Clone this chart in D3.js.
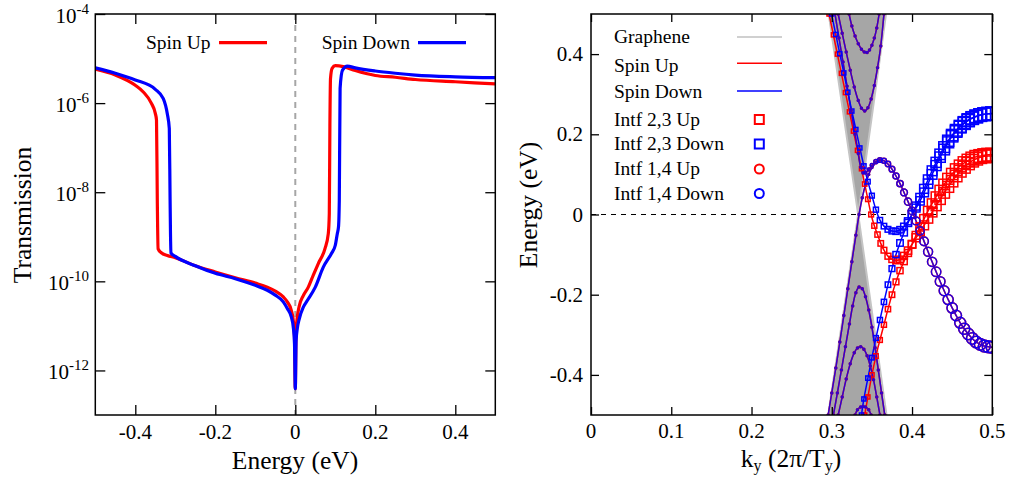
<!DOCTYPE html>
<html>
<head>
<meta charset="utf-8">
<script src="https://cdn.jsdelivr.net/npm/d3@7"></script>
<style>
    body { margin: 0; background: #fff; }
    svg { display: block; font-family: "Liberation Serif", "Times New Roman", serif; }
</style>
</head>
<body>
<svg id="chart" width="1010" height="477"></svg>
<script>
// ---- Left panel: transmission vs energy (log10 of T) ----
const energyUp = [-0.5, -0.45, -0.4, -0.38, -0.36, -0.35, -0.347, -0.345, -0.343, -0.335, -0.32, -0.3, -0.25, -0.2,
    -0.15, -0.1, -0.07, -0.05, -0.03, -0.02, -0.01, -0.005, -0.002, 0, 0.002, 0.005, 0.01, 0.02, 0.0325, 0.045,
    0.0575, 0.074, 0.0825, 0.085, 0.0865, 0.088, 0.092, 0.1, 0.12, 0.15, 0.2, 0.25, 0.3, 0.4, 0.5];
const logTUp = [-5.24, -5.37, -5.6, -5.75, -6.0, -6.23, -6.38, -8.18, -9.27, -9.36, -9.42, -9.47, -9.65, -9.79,
    -9.92, -10.04, -10.13, -10.22, -10.35, -10.46, -10.65, -10.88, -11.25, -12.41, -11.1, -10.8, -10.55, -10.32, -10.13, -9.86,
    -9.6, -9.27, -8.93, -8.48, -6.5, -5.45, -5.22, -5.16, -5.18, -5.27, -5.38, -5.42, -5.47, -5.52, -5.57];

const energyDown = [-0.5, -0.45, -0.4, -0.35, -0.33, -0.32, -0.315, -0.313, -0.311, -0.3, -0.25, -0.2, -0.15, -0.1,
    -0.07, -0.05, -0.03, -0.02, -0.01, -0.005, -0.002, 0, 0.002, 0.005, 0.01, 0.02, 0.03, 0.05, 0.07, 0.09, 0.1,
    0.105, 0.108, 0.11, 0.112, 0.118, 0.13, 0.15, 0.2, 0.25, 0.3, 0.4, 0.5];
const logTDown = [-5.21, -5.33, -5.48, -5.69, -5.9, -6.24, -6.57, -8.18, -9.36, -9.44, -9.65, -9.82, -9.94, -10.09,
    -10.2, -10.31, -10.46, -10.61, -10.8, -11.03, -11.4, -12.41, -11.33, -11.06, -10.84, -10.58, -10.43, -10.13, -9.68, -9.38, -9.19,
    -8.93, -8.78, -8.18, -5.67, -5.26, -5.17, -5.21, -5.28, -5.33, -5.37, -5.41, -5.43];

const leftXTicks = [-0.4, -0.2, 0, 0.2, 0.4];
const leftYTickExp = [-12, -10, -8, -6, -4];
const leftLegend = ["Spin Up", "Spin Down"];

// ---- Right panel: band structure, points are [k, E, interface weight] ----
const grapheneUpper = [[0.2962, 0.5], [0.3329, 0], [0.3676, 0.5]];
const grapheneLower = [[0.2955, -0.5], [0.3329, 0], [0.3682, -0.5]];

// bands shared by both spins (bulk subbands + interface 1,4 band)
const bulkC1 = [[0.3216, 0.5, 0], [0.325, 0.47, 0], [0.329, 0.445, 0], [0.333, 0.426, 0], [0.337, 0.412, 0], [0.3405, 0.405, 0],
    [0.344, 0.404, 0], [0.347, 0.41, 0], [0.35, 0.422, 0], [0.353, 0.44, 0], [0.356, 0.465, 0], [0.359, 0.5, 0]];
const bulkC2 = [[0.308, 0.5, 0], [0.313, 0.452, 0], [0.318, 0.405, 0], [0.323, 0.36, 0], [0.328, 0.318, 0], [0.333, 0.284, 0],
    [0.337, 0.265, 0], [0.341, 0.258, 0], [0.345, 0.266, 0], [0.349, 0.288, 0], [0.353, 0.322, 0], [0.357, 0.366, 0],
    [0.361, 0.42, 0], [0.365, 0.5, 0]];
const bulkV1 = [[0.302, -0.5, 0], [0.307, -0.445, 0], [0.312, -0.388, 0], [0.317, -0.33, 0], [0.322, -0.273, 0], [0.326, -0.228, 0],
    [0.33, -0.195, 0], [0.334, -0.181, 0], [0.338, -0.185, 0], [0.342, -0.205, 0], [0.346, -0.238, 0], [0.35, -0.281, 0],
    [0.354, -0.332, 0], [0.358, -0.388, 0], [0.362, -0.445, 0], [0.366, -0.5, 0]];
const bulkV2 = [[0.308, -0.5, 0], [0.313, -0.455, 0], [0.318, -0.41, 0], [0.323, -0.372, 0], [0.328, -0.345, 0], [0.332, -0.333, 0],
    [0.336, -0.33, 0], [0.34, -0.336, 0], [0.344, -0.352, 0], [0.348, -0.378, 0], [0.352, -0.412, 0], [0.356, -0.455, 0], [0.36, -0.5, 0]];
const bulkV3 = [[0.329, -0.5, 0], [0.332, -0.487, 0], [0.336, -0.48, 0], [0.339, -0.479, 0], [0.342, -0.48, 0], [0.346, -0.487, 0], [0.349, -0.5, 0]];
const diracBand = [[0.2955, -0.5, 0], [0.3, -0.445, 0], [0.305, -0.383, 0], [0.31, -0.318, 0], [0.315, -0.252, 0], [0.32, -0.185, 0],
    [0.325, -0.118, 0], [0.33, -0.052, 0], [0.334, 0, 0], [0.338, 0.042, 0], [0.342, 0.075, 0], [0.346, 0.1, 0], [0.35, 0.117, 0],
    [0.355, 0.13, 0], [0.36, 0.136, 0]];
const intf14 = [[0.304, 0.5, 0], [0.309, 0.44, 0], [0.314, 0.38, 0], [0.319, 0.32, 0], [0.324, 0.26, 0], [0.329, 0.2, 0],
    [0.333, 0.152, 0], [0.336, 0.118, 0], [0.339, 0.104, 0.02], [0.342, 0.104, 0.04], [0.346, 0.112, 0.08], [0.35, 0.123, 0.12],
    [0.355, 0.132, 0.18], [0.36, 0.136, 0.22], [0.365, 0.134, 0.25], [0.37, 0.126, 0.28], [0.375, 0.113, 0.31], [0.38, 0.096, 0.34],
    [0.385, 0.077, 0.37], [0.39, 0.055, 0.4], [0.395, 0.032, 0.43], [0.4, 0.009, 0.46], [0.405, -0.016, 0.49], [0.41, -0.041, 0.52],
    [0.415, -0.067, 0.55], [0.42, -0.093, 0.58], [0.425, -0.118, 0.6], [0.43, -0.143, 0.62], [0.435, -0.167, 0.64], [0.44, -0.19, 0.66],
    [0.445, -0.212, 0.68], [0.45, -0.233, 0.7], [0.455, -0.252, 0.72], [0.46, -0.27, 0.74], [0.465, -0.285, 0.76], [0.47, -0.298, 0.78],
    [0.475, -0.309, 0.79], [0.48, -0.318, 0.8], [0.485, -0.324, 0.81], [0.49, -0.328, 0.82], [0.495, -0.33, 0.83], [0.5, -0.331, 0.84]];

// spin up interface 2,3 bands
const upIntfA = [[0.2966, 0.5, 0.1], [0.302, 0.448, 0.1], [0.307, 0.4, 0.1], [0.312, 0.352, 0.1], [0.317, 0.304, 0.1], [0.322, 0.256, 0.1],
    [0.327, 0.208, 0.1], [0.332, 0.16, 0.1], [0.337, 0.114, 0.1], [0.341, 0.076, 0.12], [0.345, 0.038, 0.14], [0.349, 0, 0.16],
    [0.353, -0.028, 0.18], [0.357, -0.05, 0.2], [0.361, -0.072, 0.22], [0.365, -0.089, 0.24], [0.37, -0.104, 0.26], [0.375, -0.112, 0.28],
    [0.38, -0.115, 0.3], [0.385, -0.112, 0.32], [0.39, -0.103, 0.35], [0.395, -0.09, 0.38], [0.4, -0.074, 0.41], [0.405, -0.058, 0.45],
    [0.41, -0.042, 0.49], [0.415, -0.027, 0.53], [0.42, -0.01, 0.56], [0.425, 0.006, 0.6], [0.43, 0.022, 0.63], [0.435, 0.038, 0.66],
    [0.44, 0.054, 0.69], [0.445, 0.069, 0.72], [0.45, 0.083, 0.75], [0.455, 0.096, 0.77], [0.46, 0.108, 0.79], [0.465, 0.118, 0.81],
    [0.47, 0.127, 0.83], [0.475, 0.134, 0.85], [0.48, 0.139, 0.86], [0.485, 0.143, 0.87], [0.49, 0.145, 0.88], [0.495, 0.146, 0.89], [0.5, 0.146, 0.9]];
const upIntfB = [[0.341, -0.5, 0.1], [0.345, -0.455, 0.1], [0.35, -0.4, 0.12], [0.355, -0.353, 0.14], [0.36, -0.313, 0.16], [0.365, -0.275, 0.18],
    [0.37, -0.236, 0.2], [0.375, -0.2, 0.22], [0.38, -0.168, 0.25], [0.385, -0.14, 0.28], [0.39, -0.117, 0.31], [0.395, -0.096, 0.35],
    [0.4, -0.075, 0.39], [0.405, -0.052, 0.43], [0.41, -0.031, 0.47], [0.415, -0.011, 0.51], [0.42, 0.009, 0.55], [0.425, 0.027, 0.59],
    [0.43, 0.044, 0.62], [0.435, 0.06, 0.65], [0.44, 0.075, 0.68], [0.445, 0.089, 0.71], [0.45, 0.101, 0.74], [0.455, 0.112, 0.77],
    [0.46, 0.121, 0.79], [0.465, 0.129, 0.81], [0.47, 0.135, 0.83], [0.475, 0.14, 0.85], [0.48, 0.144, 0.86], [0.485, 0.146, 0.87],
    [0.49, 0.148, 0.88], [0.495, 0.149, 0.89], [0.5, 0.149, 0.9]];

// spin down interface 2,3 bands
const downIntfA = [[0.2997, 0.5, 0.1], [0.305, 0.449, 0.1], [0.31, 0.401, 0.1], [0.315, 0.353, 0.1], [0.32, 0.305, 0.1], [0.325, 0.258, 0.1],
    [0.33, 0.212, 0.1], [0.335, 0.166, 0.1], [0.34, 0.121, 0.12], [0.345, 0.082, 0.14], [0.35, 0.047, 0.16], [0.355, 0.012, 0.18],
    [0.36, -0.014, 0.2], [0.365, -0.029, 0.22], [0.37, -0.037, 0.24], [0.375, -0.041, 0.26], [0.38, -0.042, 0.28], [0.385, -0.038, 0.3],
    [0.39, -0.03, 0.33], [0.395, -0.017, 0.36], [0.4, 0, 0.4], [0.405, 0.016, 0.44], [0.41, 0.034, 0.48], [0.415, 0.055, 0.52],
    [0.42, 0.077, 0.56], [0.425, 0.1, 0.6], [0.43, 0.122, 0.63], [0.435, 0.143, 0.66], [0.44, 0.162, 0.69], [0.445, 0.18, 0.72],
    [0.45, 0.195, 0.75], [0.455, 0.207, 0.77], [0.46, 0.218, 0.79], [0.465, 0.227, 0.81], [0.47, 0.234, 0.83], [0.475, 0.24, 0.85],
    [0.48, 0.244, 0.86], [0.485, 0.248, 0.87], [0.49, 0.25, 0.88], [0.495, 0.251, 0.89], [0.5, 0.252, 0.9]];
const downIntfB = [[0.337, -0.5, 0.1], [0.34, -0.46, 0.1], [0.345, -0.408, 0.12], [0.35, -0.357, 0.14], [0.355, -0.308, 0.16], [0.36, -0.263, 0.18],
    [0.365, -0.218, 0.2], [0.37, -0.175, 0.22], [0.375, -0.135, 0.25], [0.38, -0.1, 0.28], [0.385, -0.071, 0.31], [0.39, -0.045, 0.34],
    [0.395, -0.021, 0.37], [0.4, 0.001, 0.41], [0.405, 0.021, 0.45], [0.41, 0.042, 0.49], [0.415, 0.064, 0.53], [0.42, 0.087, 0.57],
    [0.425, 0.109, 0.61], [0.43, 0.13, 0.64], [0.435, 0.15, 0.67], [0.44, 0.168, 0.7], [0.445, 0.184, 0.73], [0.45, 0.198, 0.76],
    [0.455, 0.21, 0.78], [0.46, 0.22, 0.8], [0.465, 0.229, 0.82], [0.47, 0.236, 0.84], [0.475, 0.241, 0.85], [0.48, 0.245, 0.86],
    [0.485, 0.248, 0.87], [0.49, 0.25, 0.88], [0.495, 0.251, 0.89], [0.5, 0.252, 0.9]];

const rightXTicks = [0, 0.1, 0.2, 0.3, 0.4, 0.5];
const rightYTicks = [-0.4, -0.2, 0, 0.2, 0.4];
const rightLegend = ["Graphene", "Spin Up", "Spin Down", "Intf 2,3 Up", "Intf 2,3 Down", "Intf 1,4 Up", "Intf 1,4 Down"];

const RED = "#ff0000", BLUE = "#0000ff";
const svg = d3.select("#chart");
const defs = svg.append("defs");

// panel frames
const L = { x0: 95.3, x1: 495.3, y0: 14, y1: 415 };
const R = { x0: 591, x1: 992.3, y0: 14, y1: 415 };

[["clipL", L], ["clipR", R]].forEach(([id, p]) => {
    defs.append("clipPath").attr("id", id).append("rect")
        .attr("x", p.x0).attr("y", p.y0).attr("width", p.x1 - p.x0).attr("height", p.y1 - p.y0);
});

// inward mirrored ticks on all four sides
function drawTicks(g, p, xScale, yScale, xVals, yVals, len) {
    g.append("g").attr("transform", `translate(0,${p.y1})`)
        .call(d3.axisBottom(xScale).tickValues(xVals).tickSizeInner(-len).tickSizeOuter(0).tickFormat(""));
    g.append("g").attr("transform", `translate(0,${p.y0})`)
        .call(d3.axisTop(xScale).tickValues(xVals).tickSizeInner(-len).tickSizeOuter(0).tickFormat(""));
    g.append("g").attr("transform", `translate(${p.x0},0)`)
        .call(d3.axisLeft(yScale).tickValues(yVals).tickSizeInner(-len).tickSizeOuter(0).tickFormat(""));
    g.append("g").attr("transform", `translate(${p.x1},0)`)
        .call(d3.axisRight(yScale).tickValues(yVals).tickSizeInner(-len).tickSizeOuter(0).tickFormat(""));
    g.selectAll(".domain").remove();
    g.selectAll(".tick line").attr("stroke", "#000").attr("stroke-width", 1.3);
}

// ================= Left panel =================
const xL = d3.scaleLinear().domain([-0.5, 0.5]).range([L.x0, L.x1]);
const yL = d3.scaleLog().domain([1e-13, 1e-4]).range([L.y1, L.y0]);

const left = svg.append("g");
const leftPlot = left.append("g").attr("clip-path", "url(#clipL)");

leftPlot.append("line")
    .attr("x1", xL(0)).attr("x2", xL(0)).attr("y1", L.y0).attr("y2", L.y1)
    .attr("stroke", "#a6a6a6").attr("stroke-width", 2).attr("stroke-dasharray", "6,5");

const tLine = d3.line()
    .x(d => xL(d[0]))
    .y(d => yL(Math.pow(10, d[1])))
    .curve(d3.curveMonotoneX);

leftPlot.append("path").datum(energyUp.map((e, i) => [e, logTUp[i]]))
    .attr("d", tLine).attr("fill", "none").attr("stroke", RED).attr("stroke-width", 3.2).attr("stroke-linejoin", "round");
leftPlot.append("path").datum(energyDown.map((e, i) => [e, logTDown[i]]))
    .attr("d", tLine).attr("fill", "none").attr("stroke", BLUE).attr("stroke-width", 3.2).attr("stroke-linejoin", "round");

drawTicks(left, L, xL, yL, leftXTicks, leftYTickExp.map(e => Math.pow(10, e)), 10);

left.selectAll(".xlab").data(leftXTicks).join("text")
    .attr("x", d => xL(d)).attr("y", 439).attr("text-anchor", "middle")
    .attr("font-size", 21).text(d => String(d));

const yLab = left.selectAll(".ylab").data(leftYTickExp).join("text")
    .attr("x", 89).attr("y", d => yL(Math.pow(10, d)) + 9).attr("text-anchor", "end").attr("font-size", 21);
yLab.append("tspan").text("10");
yLab.append("tspan").attr("dy", -9).attr("font-size", 15).text(d => String(d));

left.append("text").attr("x", 295).attr("y", 469).attr("text-anchor", "middle")
    .attr("font-size", 25.5).text("Energy (eV)");
left.append("text").attr("transform", "translate(31,215) rotate(-90)").attr("text-anchor", "middle")
    .attr("font-size", 25.5).text("Transmission");

// legend
const leftLegPos = [{ tx: 210.5, lx: 219 }, { tx: 410, lx: 418 }];
leftLegend.forEach((name, i) => {
    const p = leftLegPos[i];
    left.append("text").attr("x", p.tx).attr("y", 48.5).attr("text-anchor", "end")
        .attr("font-size", 19.5).text(name);
    left.append("line").attr("x1", p.lx).attr("x2", p.lx + 48).attr("y1", 42.7).attr("y2", 42.7)
        .attr("stroke", i === 0 ? RED : BLUE).attr("stroke-width", 3.2);
});

left.append("rect").attr("x", L.x0).attr("y", L.y0).attr("width", L.x1 - L.x0).attr("height", L.y1 - L.y0)
    .attr("fill", "none").attr("stroke", "#000").attr("stroke-width", 1.5);

// ================= Right panel =================
const xR = d3.scaleLinear().domain([0, 0.5]).range([R.x0, R.x1]);
const yR = d3.scaleLinear().domain([-0.5, 0.5]).range([R.y1, R.y0]);

const right = svg.append("g");
const plot = right.append("g").attr("clip-path", "url(#clipR)");

// graphene cone
const cone = d3.line().x(d => xR(d[0])).y(d => yR(d[1]));
[grapheneUpper, grapheneLower].forEach(tri => {
    plot.append("path").datum(tri).attr("d", cone(tri) + "Z")
        .attr("fill", "#a6a6a6").attr("stroke", "#c4c4c4").attr("stroke-width", 2).attr("stroke-linejoin", "miter");
});

plot.append("line").attr("x1", R.x0).attr("x2", R.x1).attr("y1", yR(0)).attr("y2", yR(0))
    .attr("stroke", "#000").attr("stroke-width", 1.2).attr("stroke-dasharray", "5,5");

const bandLine = d3.line().x(d => xR(d[0])).y(d => yR(d[1])).curve(d3.curveCatmullRom.alpha(0.5));

function drawBand(data, color, opacity) {
    plot.append("path").datum(data).attr("d", bandLine)
        .attr("fill", "none").attr("stroke", color).attr("stroke-width", 1.5).attr("stroke-opacity", opacity);
}
function drawSquares(data, color) {
    plot.append("g").selectAll("rect").data(data).join("rect")
        .attr("x", d => xR(d[0]) - (3 + 11 * d[2]) / 2).attr("y", d => yR(d[1]) - (3 + 11 * d[2]) / 2)
        .attr("width", d => 3 + 11 * d[2]).attr("height", d => 3 + 11 * d[2])
        .attr("fill", "none").attr("stroke", color).attr("stroke-width", 1.5);
}
function drawCircles(data, color, opacity) {
    plot.append("g").selectAll("circle").data(data).join("circle")
        .attr("cx", d => xR(d[0])).attr("cy", d => yR(d[1])).attr("r", d => (2 + 12 * d[2]) / 2)
        .attr("fill", "none").attr("stroke", color).attr("stroke-width", 1.5).attr("stroke-opacity", opacity);
}

const sharedBands = [bulkC1, bulkC2, bulkV1, bulkV2, bulkV3, diracBand, intf14];
// spin up first, spin down on top -> blue-purple where the spins coincide
sharedBands.forEach(b => drawBand(b, RED, 1));
[upIntfA, upIntfB].forEach(b => drawBand(b, RED, 1));
sharedBands.forEach(b => drawBand(b, BLUE, 0.8));
[downIntfA, downIntfB].forEach(b => drawBand(b, BLUE, 1));

[bulkC1, bulkC2, bulkV1, bulkV2, bulkV3, diracBand].forEach(b => { drawCircles(b, RED, 1); drawCircles(b, BLUE, 0.8); });
drawSquares(upIntfA, RED);
drawSquares(upIntfB, RED);
drawSquares(downIntfA, BLUE);
drawSquares(downIntfB, BLUE);
drawCircles(intf14, RED, 1);
drawCircles(intf14, BLUE, 0.85);

drawTicks(right, R, xR, yR, rightXTicks, rightYTicks, 8);

right.selectAll(".xlab").data(rightXTicks).join("text")
    .attr("x", d => xR(d)).attr("y", 438).attr("text-anchor", "middle")
    .attr("font-size", 21).text(d => String(d));
right.selectAll(".ylab").data(rightYTicks).join("text")
    .attr("x", 583).attr("y", d => yR(d) + 7).attr("text-anchor", "end")
    .attr("font-size", 21).text(d => String(d));

const kLab = right.append("text").attr("x", 791).attr("y", 467).attr("text-anchor", "middle").attr("font-size", 25.5);
kLab.append("tspan").text("k");
kLab.append("tspan").attr("dy", 4).attr("font-size", 16).text("y");
kLab.append("tspan").attr("dy", -4).text(" (2π/T");
kLab.append("tspan").attr("dy", 4).attr("font-size", 16).text("y");
kLab.append("tspan").attr("dy", -4).text(")");

right.append("text").attr("transform", "translate(537,205) rotate(-90)").attr("text-anchor", "middle")
    .attr("font-size", 25.5).text("Energy (eV)");

// legend
const legBase = [43.3, 71.5, 98.3, 126, 149.5, 175, 200];
const legMark = [37, 63.3, 91, 119.5, 144, 169, 193.5];
const legColor = ["#c0c0c0", RED, BLUE, RED, BLUE, RED, BLUE];
const leg = right.append("g");
rightLegend.forEach((name, i) => {
    leg.append("text").attr("x", 614).attr("y", legBase[i]).attr("font-size", 19.5).text(name);
    if (i < 3) {
        leg.append("line").attr("x1", 737).attr("x2", 782).attr("y1", legMark[i]).attr("y2", legMark[i])
            .attr("stroke", legColor[i]).attr("stroke-width", 1.6);
    } else if (i < 5) {
        leg.append("rect").attr("x", 759.3 - 4.5).attr("y", legMark[i] - 4.5).attr("width", 9).attr("height", 9)
            .attr("fill", "none").attr("stroke", legColor[i]).attr("stroke-width", 2);
    } else {
        leg.append("circle").attr("cx", 759.3).attr("cy", legMark[i]).attr("r", 4.5)
            .attr("fill", "none").attr("stroke", legColor[i]).attr("stroke-width", 2);
    }
});

right.append("rect").attr("x", R.x0).attr("y", R.y0).attr("width", R.x1 - R.x0).attr("height", R.y1 - R.y0)
    .attr("fill", "none").attr("stroke", "#000").attr("stroke-width", 1.5);
</script>
</body>
</html>
